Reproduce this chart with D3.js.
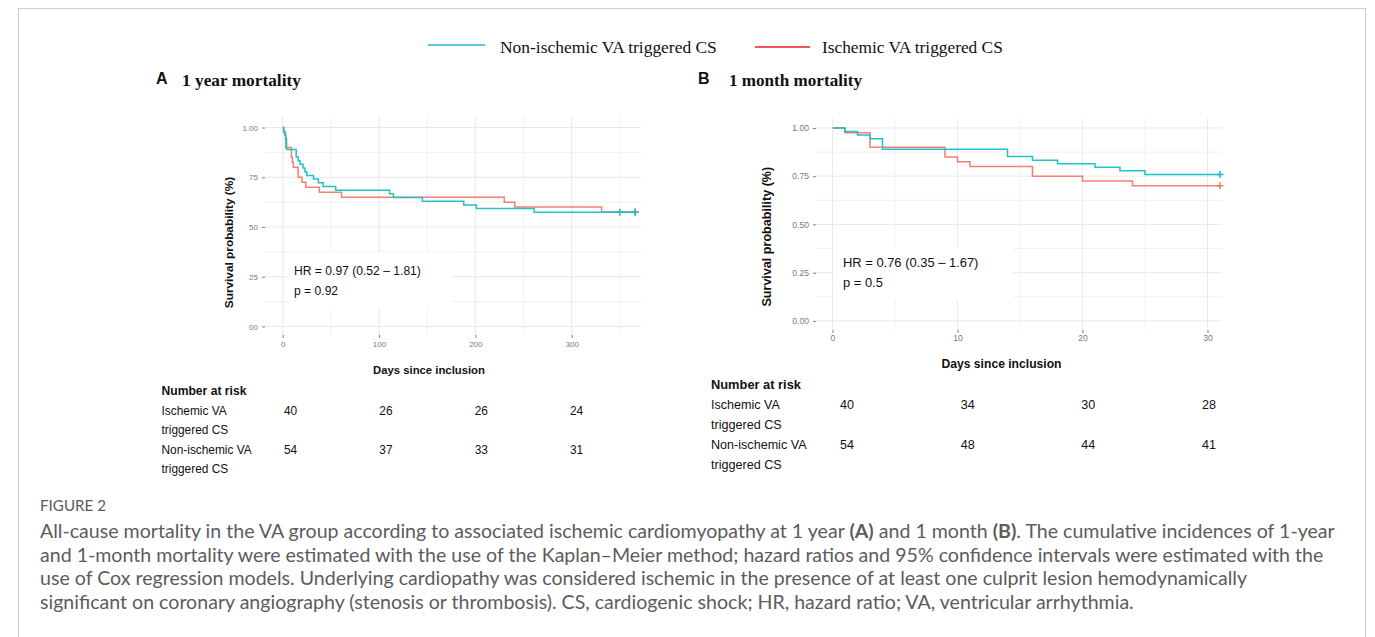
<!DOCTYPE html>
<html><head><meta charset="utf-8">
<script src="https://cdn.jsdelivr.net/npm/d3@7"></script>
<style>html,body{margin:0;padding:0;background:#fff;}svg{display:block;}</style>
</head><body>
<script>
// ---------------- DATA ----------------
const seriesNames = ["Non-ischemic VA triggered CS", "Ischemic VA triggered CS"];
// Panel A: 1 year mortality (days, survival)
const nonIschA_days = [0, 1, 2, 3, 4, 14, 16, 18, 21, 23, 25, 32, 37, 42, 55, 111, 115, 145, 188, 201, 261, 366];
const nonIschA_surv = [1.0, 0.981, 0.963, 0.944, 0.889, 0.852, 0.833, 0.815, 0.796, 0.778, 0.759, 0.741, 0.722, 0.704, 0.685, 0.667, 0.648, 0.630, 0.611, 0.593, 0.574, 0.574];
const ischA_days = [0, 1, 3, 9, 10, 11, 16, 20, 24, 38, 61, 230, 241, 331, 366];
const ischA_surv = [1.0, 0.975, 0.90, 0.85, 0.825, 0.80, 0.75, 0.725, 0.70, 0.675, 0.65, 0.625, 0.60, 0.575, 0.575];
const nonIschA_censor = [350, 366];
const ischA_censor = [366];
// Panel B: 1 month mortality
const nonIschB_days = [0, 1, 2, 3, 4, 14, 16, 18, 21, 23, 25, 31];
const nonIschB_surv = [1.0, 0.981, 0.963, 0.944, 0.889, 0.852, 0.833, 0.815, 0.796, 0.778, 0.759, 0.759];
const ischB_days = [0, 1, 3, 9, 10, 11, 16, 20, 24, 31];
const ischB_surv = [1.0, 0.975, 0.90, 0.85, 0.825, 0.80, 0.75, 0.725, 0.70, 0.70];
const nonIschB_censor = [31];
const ischB_censor = [31];
// Axis ticks
const xTicksA = [0, 100, 200, 300];
const xMinorA = [50, 150, 250, 350];
const yTicksA = [0, 0.25, 0.5, 0.75, 1];
const yTickLabelsA = ["00", "25", "50", "75", "1.00"];
const xTicksB = [0, 10, 20, 30];
const xMinorB = [5, 15, 25];
const yTicksB = [0, 0.25, 0.5, 0.75, 1];
const yTickLabelsB = ["0.00", "0.25", "0.50", "0.75", "1.00"];
const yMinor = [0.125, 0.375, 0.625, 0.875];
// Number at risk
const riskTimesA = [0, 100, 200, 300];
const riskA_isch = [40, 26, 26, 24];
const riskA_non = [54, 37, 33, 31];
const riskTimesB = [0, 10, 20, 30];
const riskB_isch = [40, 34, 30, 28];
const riskB_non = [54, 48, 44, 41];
const hrTextA = ["HR = 0.97 (0.52 \u2013 1.81)", "p = 0.92"];
const hrTextB = ["HR = 0.76 (0.35 \u2013 1.67)", "p = 0.5"];

// ---------------- STYLE ----------------
const W = 1375, H = 637;
const colNon = "#13c0c6", colIsch = "#f8766d";
const legNon = "#27b6e2", legIsch = "#ec1c24";
const sans = "'Liberation Sans', Arial, sans-serif";
const serif = "'Liberation Serif', 'Times New Roman', serif";

const svg = d3.select("body").append("svg").attr("width", W).attr("height", H);

function fit(sel, w) {
  const L = sel.node().getComputedTextLength();
  if (L > 0) { const fs = parseFloat(sel.attr("font-size")); sel.attr("font-size", fs * w / L); }
  return parseFloat(sel.attr("font-size"));
}

// frame
svg.append("rect").attr("x", 18.5).attr("y", 8.5).attr("width", 1347).attr("height", 700)
  .attr("fill", "none").attr("stroke", "#cfcfcf").attr("stroke-width", 1);

// legend
const leg = [
  {name: seriesNames[0], c: legNon, x1: 428, x2: 485, ly: 45, tx: 500, w: 217},
  {name: seriesNames[1], c: legIsch, x1: 755, x2: 810, ly: 47, tx: 822, w: 181}
];
leg.forEach(d => {
  svg.append("line").attr("x1", d.x1).attr("x2", d.x2).attr("y1", d.ly).attr("y2", d.ly)
    .attr("stroke", d.c).attr("stroke-width", 1.6);
  const t = svg.append("text").attr("x", d.tx).attr("y", 53).attr("font-family", serif)
    .attr("font-size", 17).attr("fill", "#111").text(d.name);
  fit(t, d.w);
});

function panel(cfg) {
  const g = svg.append("g");
  const x = d3.scaleLinear().domain(cfg.xdom).range([cfg.left, cfg.right]);
  const y = d3.scaleLinear().domain(cfg.ydom).range([cfg.bottom, cfg.top]);
  // letter + title
  g.append("text").attr("x", cfg.letterX).attr("y", 84).attr("font-family", sans).attr("font-weight", "bold")
    .attr("font-size", 16).attr("fill", "#111").text(cfg.letter);
  const tt = g.append("text").attr("x", cfg.titleX).attr("y", 86).attr("font-family", serif).attr("font-weight", "bold")
    .attr("font-size", 17).attr("fill", "#111").text(cfg.title);
  fit(tt, cfg.titleW);
  // grid
  const grid = g.append("g");
  grid.selectAll(".ymin").data(yMinor).join("line").attr("x1", cfg.left).attr("x2", cfg.right)
    .attr("y1", d => y(d)).attr("y2", d => y(d)).attr("stroke", "#f1f1f1").attr("stroke-width", 1);
  grid.selectAll(".xmin").data(cfg.xMinor.filter(v => x(v) <= cfg.right)).join("line").attr("y1", cfg.top).attr("y2", cfg.bottom)
    .attr("x1", d => x(d)).attr("x2", d => x(d)).attr("stroke", "#f1f1f1").attr("stroke-width", 1);
  grid.selectAll(".ymaj").data(cfg.yTicks).join("line").attr("x1", cfg.left).attr("x2", cfg.right)
    .attr("y1", d => y(d)).attr("y2", d => y(d)).attr("stroke", "#e9e9e9").attr("stroke-width", 1);
  grid.selectAll(".xmaj").data(cfg.xTicks).join("line").attr("y1", cfg.top).attr("y2", cfg.bottom)
    .attr("x1", d => x(d)).attr("x2", d => x(d)).attr("stroke", "#e9e9e9").attr("stroke-width", 1);
  // HR box
  g.append("rect").attr("x", cfg.box[0]).attr("y", cfg.box[1]).attr("width", cfg.box[2]).attr("height", cfg.box[3]).attr("fill", "#fff");
  // axes
  const ya = g.append("g").attr("transform", `translate(${cfg.left},0)`)
    .call(d3.axisLeft(y).tickValues(cfg.yTicks).tickFormat((d, i) => cfg.yLabels[i]).tickSize(3).tickPadding(4));
  const xa = g.append("g").attr("transform", `translate(0,${cfg.bottom})`)
    .call(d3.axisBottom(x).tickValues(cfg.xTicks).tickFormat(d3.format("d")).tickSize(3).tickPadding(cfg.xPad));
  [ya, xa].forEach(a => {
    a.select(".domain").remove();
    a.selectAll("line").attr("stroke", "#7f7f7f");
    a.selectAll("text").attr("fill", "#7a7a7a").attr("font-family", sans).attr("font-size", cfg.tickFs);
  });
  // axis titles
  const yt = g.append("text").attr("transform", `translate(${cfg.yTitleX},${cfg.yTitleY}) rotate(-90)`)
    .attr("text-anchor", "middle").attr("font-family", sans).attr("font-weight", "bold").attr("font-size", 11.5)
    .attr("fill", "#111").text("Survival probability (%)");
  fit(yt, cfg.yTitleW);
  const xt = g.append("text").attr("x", cfg.xTitleX).attr("y", cfg.xTitleY).attr("text-anchor", "middle")
    .attr("font-family", sans).attr("font-weight", "bold").attr("font-size", 11.5).attr("fill", "#111").text("Days since inclusion");
  fit(xt, cfg.xTitleW);
  // HR text
  const h1 = g.append("text").attr("x", cfg.hrX).attr("y", cfg.hrY).attr("font-family", sans).attr("font-size", 12)
    .attr("fill", "#111").text(cfg.hr[0]);
  const hfs = fit(h1, cfg.hrW);
  g.append("text").attr("x", cfg.hrX).attr("y", cfg.hrY + 20.5).attr("font-family", sans).attr("font-size", hfs)
    .attr("fill", "#111").text(cfg.hr[1]);
  // curves
  const line = d3.line().x(d => x(d[0])).y(d => y(d[1])).curve(d3.curveStepAfter);
  cfg.series.forEach(s => {
    const pts = s.days.map((t, i) => [t, s.surv[i]]);
    g.append("path").attr("d", line(pts)).attr("fill", "none").attr("stroke", s.c).attr("stroke-width", 1.5)
      .attr("opacity", 0.95);
    s.censor.forEach(t => {
      let v = s.surv[0];
      s.days.forEach((d, i) => { if (d <= t) v = s.surv[i]; });
      const cx = x(t), cy = y(v);
      g.append("path").attr("d", `M${cx - 3.5},${cy}H${cx + 3.5}M${cx},${cy - 3.5}V${cy + 3.5}`)
        .attr("stroke", s.c).attr("stroke-width", 1.5).attr("fill", "none");
    });
  });
  // number at risk
  const nr = g.append("text").attr("x", cfg.tabX).attr("y", cfg.tabY).attr("font-family", sans).attr("font-weight", "bold")
    .attr("font-size", 12).attr("fill", "#111").text("Number at risk");
  const tfs = fit(nr, cfg.tabW);
  const rows = [["Ischemic VA", "triggered CS"], ["Non-ischemic VA", "triggered CS"]];
  const vals = [cfg.riskIsch, cfg.riskNon];
  const cx = d3.scaleLinear().domain([cfg.riskTimes[0], cfg.riskTimes[3]]).range(cfg.tabCols);
  rows.forEach((r, ri) => {
    const by = cfg.tabY + cfg.rowH * (1 + ri * 2);
    r.forEach((s, k) => g.append("text").attr("x", cfg.tabX).attr("y", by + k * cfg.rowH).attr("font-family", sans)
      .attr("font-size", tfs * 0.98).attr("fill", "#111").text(s));
    g.selectAll(null).data(vals[ri]).join("text").attr("x", (d, i) => cx(cfg.riskTimes[i])).attr("y", by)
      .attr("font-family", sans).attr("font-size", tfs * 0.98).attr("fill", "#111").text(d => d);
  });
}

panel({
  letter: "A", letterX: 156, title: "1 year mortality", titleX: 182, titleW: 119,
  left: 265, right: 641, top: 116, bottom: 335, xdom: [-18.4, 372], ydom: [-0.043, 1.058],
  xTicks: xTicksA, xMinor: xMinorA, yTicks: yTicksA, yLabels: yTickLabelsA, tickFs: 8, xPad: 3,
  yTitleX: 233, yTitleY: 242.5, yTitleW: 131.7, xTitleX: 429, xTitleY: 374, xTitleW: 112,
  box: [288, 252, 164, 56], hr: hrTextA, hrX: 294, hrY: 274.5, hrW: 127,
  series: [
    {days: ischA_days, surv: ischA_surv, censor: ischA_censor, c: colIsch},
    {days: nonIschA_days, surv: nonIschA_surv, censor: nonIschA_censor, c: colNon}
  ],
  tabX: 161.5, tabY: 395, tabW: 85, rowH: 19.6, riskTimes: riskTimesA, riskIsch: riskA_isch, riskNon: riskA_non,
  tabCols: [284, 570]
});

panel({
  letter: "B", letterX: 698, title: "1 month mortality", titleX: 729, titleW: 133,
  left: 816, right: 1222, top: 118.3, bottom: 330, xdom: [-1.32, 31.16], ydom: [-0.047, 1.05],
  xTicks: xTicksB, xMinor: xMinorB, yTicks: yTicksB, yLabels: yTickLabelsB, tickFs: 8.6, xPad: 2,
  yTitleX: 771, yTitleY: 236.7, yTitleW: 140, xTitleX: 1001.5, xTitleY: 368, xTitleW: 120,
  box: [833, 247, 180, 53], hr: hrTextB, hrX: 843, hrY: 266.5, hrW: 135.6,
  series: [
    {days: ischB_days, surv: ischB_surv, censor: ischB_censor, c: colIsch},
    {days: nonIschB_days, surv: nonIschB_surv, censor: nonIschB_censor, c: colNon}
  ],
  tabX: 711, tabY: 389, tabW: 90, rowH: 20, riskTimes: riskTimesB, riskIsch: riskB_isch, riskNon: riskB_non,
  tabCols: [840, 1202]
});

// caption
const capFont = "Lato, 'Open Sans', sans-serif";
const fig = svg.append("text").attr("x", 40).attr("y", 511).attr("font-family", capFont).attr("font-size", 13)
  .attr("fill", "#5a5a5a").text("FIGURE 2");
fit(fig, 66);
const capLines = [
  [["All-cause mortality in the VA group according to associated ischemic cardiomyopathy at 1 year ", 0], ["(A)", 1], [" and 1 month ", 0], ["(B)", 1], [". The cumulative incidences of 1-year", 0]],
  [["and 1-month mortality were estimated with the use of the Kaplan\u2013Meier method; hazard ratios and 95% confidence intervals were estimated with the", 0]],
  [["use of Cox regression models. Underlying cardiopathy was considered ischemic in the presence of at least one culprit lesion hemodynamically", 0]],
  [["significant on coronary angiography (stenosis or thrombosis). CS, cardiogenic shock; HR, hazard ratio; VA, ventricular arrhythmia.", 0]]
];
let capFs = 17;
capLines.forEach((parts, i) => {
  const t = svg.append("text").attr("x", 40).attr("y", 538 + i * 23.7).attr("font-family", capFont)
    .attr("font-size", capFs).attr("fill", "#5c5c5c");
  parts.forEach(p => t.append("tspan").attr("font-weight", p[1] ? "bold" : "normal").text(p[0]));
  if (i === 0) capFs = fit(t, 1295);
});
</script>
</body></html>
